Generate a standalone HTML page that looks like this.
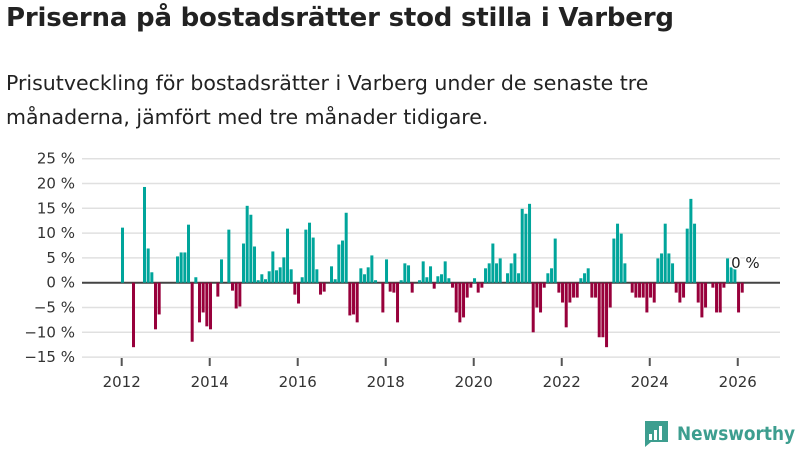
<!DOCTYPE html>
<html><head><meta charset="utf-8">
<style>
body{margin:0;background:#fff;font-family:"Liberation Sans","DejaVu Sans",sans-serif;}
#wrap{position:relative;width:800px;height:450px;overflow:hidden;}
h1{position:absolute;left:6px;top:3px;margin:0;font-size:26px;font-weight:bold;color:#222;font-family:"DejaVu Sans","Liberation Sans",sans-serif;letter-spacing:-0.2px}
p{position:absolute;left:6px;top:66px;margin:0;font-size:20.5px;line-height:34px;color:#222;font-family:"DejaVu Sans","Liberation Sans",sans-serif;}
</style></head><body>
<div id="wrap">
<h1>Priserna på bostadsrätter stod stilla i Varberg</h1>
<p>Prisutveckling för bostadsrätter i Varberg under de senaste tre<br>månaderna, jämfört med tre månader tidigare.</p>
<svg id="chart" width="800" height="450" style="position:absolute;left:0;top:0"></svg>
</div>
<script>
const startYear = 2012;
const values = [11.1,0,0,-13,0,0,19.3,6.9,2.1,-9.4,-6.4,0,0,0,0,5.3,6.1,6.1,11.7,-11.9,1.1,-8,-6,-8.8,-9.4,0,-2.8,4.7,0,10.7,-1.6,-5.2,-4.8,7.9,15.5,13.7,7.3,0.5,1.7,0.7,2.3,6.3,2.5,3.1,5.1,10.9,2.7,-2.4,-4.2,1.1,10.7,12.1,9.1,2.7,-2.4,-1.8,0,3.3,0.7,7.7,8.5,14.1,-6.6,-6.4,-8,2.9,1.7,3.1,5.5,0.5,0,-6,4.7,-1.8,-2,-8,0.5,3.9,3.5,-2,0,0.5,4.3,1.1,3.3,-1.2,1.3,1.7,4.3,0.9,-1,-6,-8,-7,-3,-1,0.9,-2,-1,2.9,3.9,7.9,3.9,4.9,0,1.9,3.9,5.9,1.9,14.9,13.9,15.9,-10,-5,-6,-1,1.9,2.9,8.9,-2,-4,-9,-4,-3,-3,0.9,1.9,2.9,-3,-3,-11,-11,-13,-5,8.9,11.9,9.9,3.9,0,-2,-3,-3,-3,-6,-3,-4,4.9,5.9,11.9,5.9,3.9,-2,-4,-3,10.9,16.9,11.9,-4,-7,-5,0,-1,-6,-6,-1,4.9,3.1,2.9,-6,-2];
const yTicks = [25,20,15,10,5,0,-5,-10,-15];
const xTicks = [2012,2014,2016,2018,2020,2022,2024,2026];
const NS="http://www.w3.org/2000/svg";
const svg=document.getElementById('chart');
const y0=282.7, pxPer=4.96, x0=121.7, pxMonth=3.667;
function ys(v){return y0 - v*pxPer;}
function xs(i){return x0 + i*pxMonth;}
function mk(t,a){const e=document.createElementNS(NS,t);for(const k in a)e.setAttribute(k,a[k]);svg.appendChild(e);return e;}
yTicks.forEach(v=>{
  const g=mk('line',{x1:82,x2:780,y1:ys(v),y2:ys(v),stroke:v===0?'#444':'#e0e0e0','stroke-width':v===0?2:1.5});
  
  
  const t=mk('text',{x:75,y:ys(v)+5,'text-anchor':'end','font-size':15,fill:'#333','font-family':'DejaVu Sans, Liberation Sans, sans-serif'});
  t.textContent=(v<0?'−'+(-v):v)+' %';
  
  
});
xTicks.forEach(yr=>{
  const x=xs((yr-startYear)*12);
  const l=mk('line',{x1:x,x2:x,y1:358,y2:366,stroke:'#555','stroke-width':2});
  
  
  const t=mk('text',{x:x,y:387,'text-anchor':'middle','font-size':15,fill:'#333','font-family':'DejaVu Sans, Liberation Sans, sans-serif'});
  t.textContent=yr;
  
  
});
values.forEach((v,i)=>{
  if(v===0)return;
  const r=mk('rect',{x:xs(i)-0.7,width:3,y:Math.min(ys(v),y0),height:Math.abs(ys(v)-y0),fill:v>0?'#00a59b':'#98003b'});
  
  
});
const last=values.length-3;
const lab=mk('text',{x:xs(last)-3,y:268,'font-size':15,fill:'#222','font-family':'DejaVu Sans, Liberation Sans, sans-serif',stroke:'#fff','stroke-width':3,'paint-order':'stroke'});
lab.textContent='0 %';


// logo
const lg=mk('g',{});


const b=document.createElementNS(NS,'path');b.setAttribute('d','M645 421 h23 v21 h-17 l-6 5 z');b.setAttribute('fill','#3d9e8f');lg.appendChild(b);
[[649,434,3,6],[654,430,3,10],[659,426,3,14]].forEach(a=>{const r=document.createElementNS(NS,'rect');r.setAttribute('x',a[0]);r.setAttribute('y',a[1]);r.setAttribute('width',a[2]);r.setAttribute('height',a[3]);r.setAttribute('fill','#fff');lg.appendChild(r);});
const lt=document.createElementNS(NS,'text');lt.setAttribute('x',677);lt.setAttribute('y',440);lt.setAttribute('font-size',19);lt.setAttribute('font-weight','bold');lt.setAttribute('fill','#3d9e8f');lt.setAttribute('textLength',118);lt.setAttribute('lengthAdjust','spacingAndGlyphs');lt.setAttribute('font-family','DejaVu Sans, Liberation Sans, sans-serif');lt.textContent='Newsworthy';lg.appendChild(lt);
</script>
</body></html>
